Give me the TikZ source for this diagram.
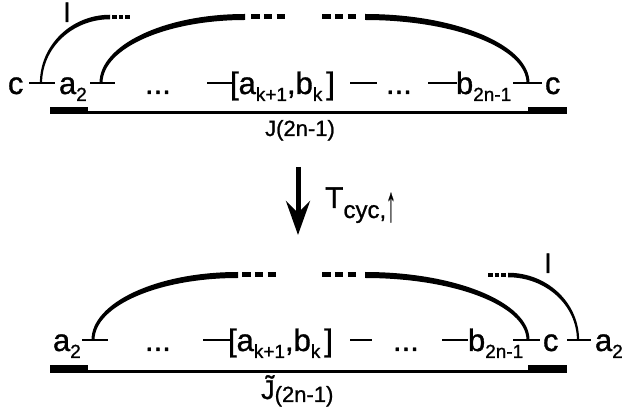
\documentclass[tikz,border=0pt]{standalone}
\usepackage{fontspec}
\setmainfont{Liberation Sans}[FakeBold=1]
\usetikzlibrary{arrows.meta}
\newcommand\fsM{\fontsize{31}{34}\selectfont}
\newcommand\mysub[1]{\raisebox{-7pt}{\fontsize{19}{19}\selectfont #1}}
% tapered arc rising: bottom x, bottom Y, top x, top Y, bottom width, top width
\newcommand\tapL[6]{\fill ({#1-#5/2},#2) arc[start angle=180,end angle=90,x radius={(#3-#1+#5/2)*1pt},y radius={(#4-#2+#6/2)*1pt}] -- (#3,{#4-#6/2}) arc[start angle=90,end angle=180,x radius={(#3-#1-#5/2)*1pt},y radius={(#4-#2-#6/2)*1pt}] -- cycle;}
% tapered arc falling: top x, top Y, bottom x, bottom Y, bottom width, top width
\newcommand\tapR[6]{\fill (#1,{#2+#6/2}) arc[start angle=90,end angle=0,x radius={(#3-#1+#5/2)*1pt},y radius={(#2-#4+#6/2)*1pt}] -- ({#3-#5/2},#4) arc[start angle=0,end angle=90,x radius={(#3-#1-#5/2)*1pt},y radius={(#2-#4-#6/2)*1pt}] -- cycle;}
\tikzset{
  lbl/.style={inner sep=0pt,outer sep=0pt,anchor=base west,font=\fsM},
  ell/.style={inner sep=0pt,outer sep=0pt,anchor=base west,font={\fontsize{27}{29}\selectfont}},
  small/.style={inner sep=0pt,outer sep=0pt,font={\fontsize{22}{24}\selectfont}},
  tick/.style={line width=2.5pt},
  thinbase/.style={line width=3pt},
  bar/.style={line width=7.5pt},
  dashtop/.style={line width=5pt,dash pattern=on 8.5pt off 4.25pt},
  dottop/.style={line width=4.5pt,dash pattern=on 4.5pt off 2pt},
}
\begin{document}
\begin{tikzpicture}[x=1pt,y=1pt]
\useasboundingbox[fill=white] (0,0) rectangle (627,415);
% ---------------- top row ----------------
\node[lbl] (tc1) at (8,321) {c};
\node[lbl] (ta2) at (59,321) {a\mysub{2}};
\node[lbl] (tdots1) at (145,321) {...};
\node[lbl] (tab) at (230,321) {[a\mysub{k+1},b\mysub{k}\hspace{4pt}]};
\node[lbl] (tdots2) at (386,321) {...};
\node[lbl] (tb) at (456,321) {b\mysub{2n-1}};
\node[lbl] (tc2) at (545,321) {c};
\node[ell] (tl) at (64,393) {l};
\coordinate (t1a) at (29,332); \coordinate (t1b) at (55,332);
\coordinate (t2a) at (90,332); \coordinate (t2b) at (115,332);
\coordinate (t3a) at (207,332); \coordinate (t3b) at (232,332);
\coordinate (t4a) at (350,332); \coordinate (t4b) at (377,332);
\coordinate (t5a) at (428,332); \coordinate (t5b) at (457,332);
\coordinate (t6a) at (513,332); \coordinate (t6b) at (542,332);
\foreach \i in {1,...,6} {\draw[tick] (t\i a) -- (t\i b);}
\tapL{41}{332}{110}{398}{2.2}{4.5}
\draw[dottop] (112,398) -- (130,398);
\tapL{101}{332}{245}{398}{3}{6}
\draw[dashtop] (251,398) -- (285,398);
\tapR{365}{398}{528}{332}{3}{6}
\draw[dashtop] (322,398) -- (360,398);
\coordinate (tbl) at (50,302.5); \coordinate (tbr) at (567,302.5);
\draw[thinbase] (tbl) -- (tbr);
\draw[bar] (50,304.5) -- (88,304.5);
\draw[bar] (528,304.5) -- (567,304.5);
\node[small,anchor=base] (tJ) at (300,279) {J(2n-1)};
% ---------------- arrow ----------------
\coordinate (arS) at (298,248); \coordinate (arE) at (298,180);
\draw[line width=5pt,-{Stealth[length=34pt,width=24pt,inset=12pt]}] (arS) -- (arE);
\node[inner sep=0pt,anchor=base west,font={\fontsize{30}{32}\selectfont}] (T) at (325,207) {T\raisebox{-10pt}{\fontsize{24}{24}\selectfont cyc,\raisebox{-3pt}{\scalebox{0.8}[2.1]{↑}}}};
% ---------------- bottom row ----------------
\node[lbl] (ba2) at (53,64) {a\mysub{2}};
\node[lbl] (bdots1) at (145,64) {...};
\node[lbl] (bab) at (228,64) {[a\mysub{k+1},b\mysub{k}\hspace{4pt}]};
\node[lbl] (bdots2) at (393,64) {...};
\node[lbl] (bb) at (468,64) {b\mysub{2n-1}};
\node[lbl] (bc) at (543,64) {c};
\node[lbl] (ba2r) at (595,64) {a\mysub{2}};
\node[ell] (bl) at (545,142) {l};
\coordinate (b1a) at (82,75); \coordinate (b1b) at (108,75);
\coordinate (b2a) at (203,75); \coordinate (b2b) at (230,75);
\coordinate (b3a) at (350,75); \coordinate (b3b) at (372,75);
\coordinate (b4a) at (442,75); \coordinate (b4b) at (468,75);
\coordinate (b5a) at (513,75); \coordinate (b5b) at (540,75);
\coordinate (b6a) at (567,75); \coordinate (b6b) at (591,75);
\foreach \i in {1,...,6} {\draw[tick] (b\i a) -- (b\i b);}
\tapL{93}{75}{238}{140}{3}{6}
\draw[dashtop] (242,140) -- (278,140);
\tapR{365}{140}{528}{75}{3}{6}
\draw[dashtop] (322,140) -- (360,140);
\tapR{508}{140}{578}{75}{2.2}{4.5}
\draw[dottop] (488,140) -- (507,140);
\coordinate (bbl) at (50,43.5); \coordinate (bbr) at (567,43.5);
\draw[thinbase] (bbl) -- (bbr);
\draw[bar] (50,46.5) -- (88,46.5);
\draw[bar] (528,46.5) -- (567,46.5);
\node[inner sep=0pt,anchor=base west,font={\fontsize{27}{29}\selectfont}] (bJ) at (261,16) {\~{J}\raisebox{-3pt}{\fontsize{22}{22}\selectfont(2n-1)}};
\end{tikzpicture}
\end{document}
